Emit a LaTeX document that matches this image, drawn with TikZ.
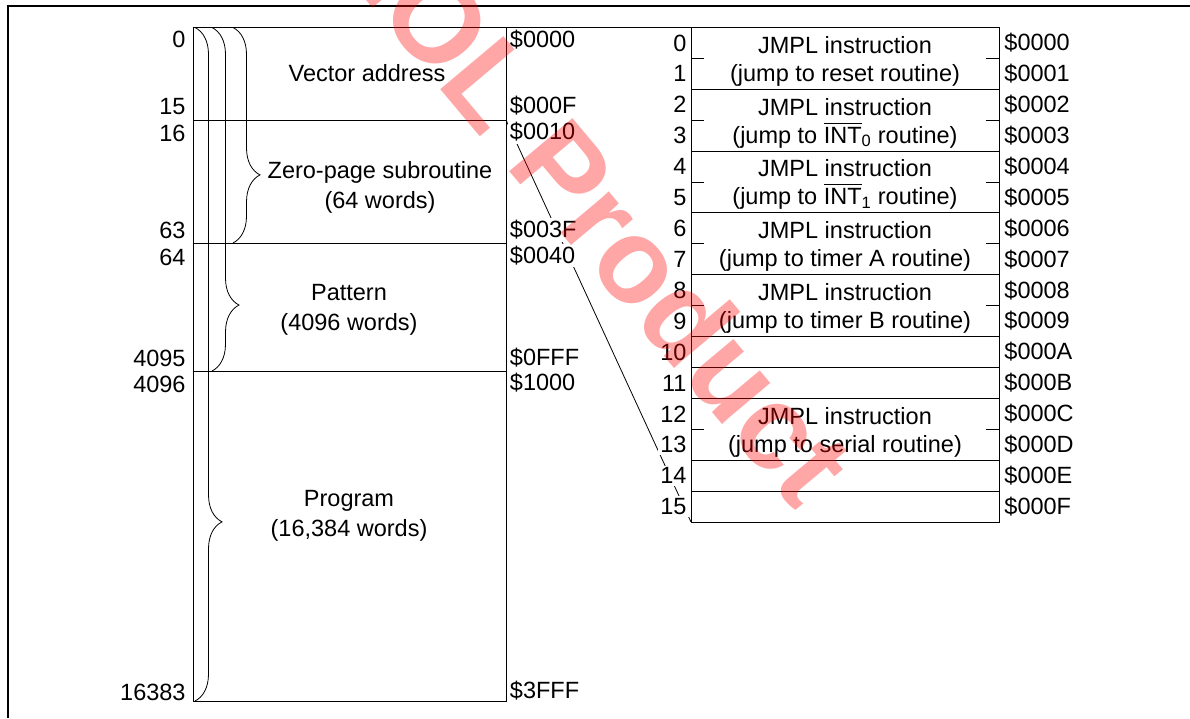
\documentclass[tikz,border=0pt]{standalone}
\usepackage{amsmath}
\usepackage{fontspec}
\setmainfont{Liberation Sans}
\usepackage{tkz-euclide}
\usetikzlibrary{calc,positioning,decorations.pathreplacing}

\begin{document}
\begin{tikzpicture}[x=1pt,y=-1pt,line width=0.9pt,
  lbl/.style={fill=white,inner sep=2pt,font=\fontsize{23.5}{28}\selectfont},
  txt/.style={align=center,font=\fontsize{23.5}{30}\selectfont},
  jmp/.style={align=center,font=\fontsize{23.5}{28}\selectfont},
  mbrace/.style={decorate,line width=0.8pt,decoration={brace,amplitude=27pt,aspect=#1}}]
\useasboundingbox (0,0) rectangle (1190,718);
\tkzDefPoint(193,27.5){A}
\tkzDefPoint(506,27.5){B}
\tkzDefPoint(506,701){C}
\tkzDefPoint(193,701){D}
\tkzDefPoint(691,27.5){E}
\tkzDefPoint(999,27.5){F}
\tkzDefPoint(999,522){G}
\tkzDefPoint(691,522){H}
\tkzDefPoint(506,120){Q}
\draw[line width=0.8pt] (Q) -- (H);
% left memory map
\node[lbl,anchor=east] (m0) at (188,39.5) {0};
\node[lbl,anchor=east] (m15) at (188,107) {15};
\node[lbl,anchor=east] (m16) at (188,133) {16};
\node[lbl,anchor=east] (m63) at (188,230) {63};
\node[lbl,anchor=east] (m64) at (188,257) {64};
\node[lbl,anchor=east] (m4095) at (188,358) {4095};
\node[lbl,anchor=east] (m4096) at (188,384) {4096};
\node[lbl,anchor=east] (m16383) at (188,692) {16383};
\node[lbl,anchor=west] (h0) at (507.5,40) {\$0000};
\node[lbl,anchor=west] (h15) at (507.5,106) {\$000F};
\node[lbl,anchor=west] (h16) at (507.5,132) {\$0010};
\node[lbl,anchor=west] (h63) at (507.5,230) {\$003F};
\node[lbl,anchor=west] (h64) at (507.5,255.5) {\$0040};
\node[lbl,anchor=west] (h4095) at (507.5,357.5) {\$0FFF};
\node[lbl,anchor=west] (h4096) at (507.5,383) {\$1000};
\node[lbl,anchor=west] (h16383) at (507.5,691) {\$3FFF};
\node[txt] (vec) at (367,73) {Vector address};
\node[txt] (zero) at (380,187) {Zero-page subroutine\\(64 words)};
\node[txt] (pat) at (349,309.5) {Pattern\\(4096 words)};
\node[txt] (prog) at (349,516) {Program\\(16,384 words)};
% vector table
\foreach \k/\h in {0/0,1/1,2/2,3/3,4/4,5/5,6/6,7/7,8/8,9/9,10/A,11/B,12/C,13/D,14/E,15/F}{
  \node[lbl,anchor=east] (r\k) at (689,{27.5+30.906*(\k+0.5)}) {\k};
  \node[lbl,anchor=west] (a\k) at (1002,{27.5+30.906*(\k+0.5)}) {\$000\h};
}
\node[jmp] (j0) at (845,61) {JMPL instruction\\(jump to reset routine)};
\node[jmp] (j1) at (845,123) {JMPL instruction\\(jump to $\overline{\text{INT}}_{\text{0}}$ routine)};
\node[jmp] (j2) at (845,184.5) {JMPL instruction\\(jump to $\overline{\text{INT}}_{\text{1}}$ routine)};
\node[jmp] (j3) at (845,246.5) {JMPL instruction\\(jump to timer A routine)};
\node[jmp] (j4) at (845,308.5) {JMPL instruction\\(jump to timer B routine)};
\node[jmp] (j6) at (845,432) {JMPL instruction\\(jump to serial routine)};
\draw (A) rectangle (C);
\draw (E) rectangle (G);
\draw (B) -- (E);
\foreach \y in {120,243,371} \draw (193,\y) -- (506,\y);
\foreach \k in {2,4,6,8,10,11,12,14,15} \draw ($(E)!\k/16!(H)$) -- ($(F)!\k/16!(G)$);
\foreach \k in {1,3,5,7,9,13}{
  \draw ($(E)!\k/16!(H)$) -- ++(13,0);
  \draw ($(F)!\k/16!(G)$) -- ++(-13,0);
}
\draw[mbrace=0.734] (195,27.5) -- (195,701);
\draw[mbrace=0.808] (212,27.5) -- (212,371);
\draw[mbrace=0.684] (233,27.5) -- (233,243);
\draw[line width=1.6pt] (8,718) -- (8,6) -- (1190,6);
\begin{scope}
\clip (0,0) rectangle (1190,718);
\node[rotate=-50,text=red,opacity=0.35,font=\fontsize{120}{120}\selectfont\bfseries] (wm) at (593,204) {EOL Product};
\end{scope}
\end{tikzpicture}
\end{document}
